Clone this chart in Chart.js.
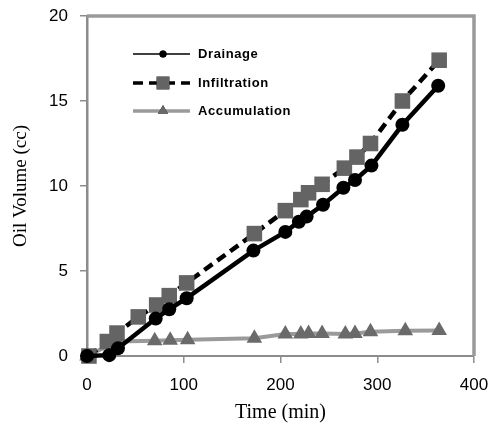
<!DOCTYPE html>
<html>
<head>
<meta charset="utf-8">
<script src="https://cdn.jsdelivr.net/npm/chart.js@4"></script>
<style>
  html, body { margin: 0; padding: 0; background: #fff; }
</style>
</head>
<body>
<canvas id="oilChart" width="489" height="427"></canvas>
<script>
  // values
  const drainageTime = [0, 23, 32, 71, 85, 103, 172, 205, 219, 227, 244, 265, 277, 294, 326, 363];
  const drainageVol  = [0, 0.05, 0.45, 2.2, 2.75, 3.4, 6.2, 7.3, 7.9, 8.2, 8.9, 9.9, 10.35, 11.2, 13.6, 15.9];

  const infiltrationTime = [2, 21, 31, 53, 72, 85, 103, 173, 205, 221, 229, 243, 266, 279, 293, 326, 364];
  const infiltrationVol  = [0, 0.85, 1.35, 2.3, 3.0, 3.55, 4.3, 7.2, 8.55, 9.2, 9.6, 10.1, 11.05, 11.7, 12.5, 15.0, 17.4];

  const accumulationTime = [0, 31, 70, 86, 104, 173, 205, 221, 229, 243, 267, 277, 293, 329, 364];
  const accumulationVol  = [0, 0.85, 0.9, 0.92, 0.95, 1.05, 1.3, 1.3, 1.32, 1.32, 1.3, 1.32, 1.42, 1.48, 1.5];

  const xTicks = [0, 100, 200, 300, 400];
  const yTicks = [0, 5, 10, 15, 20];

  const seriesNames = ['Drainage', 'Infiltration', 'Accumulation'];

  function toPoints(t, v) {
    return t.map(function (x, i) { return { x: x, y: v[i] }; });
  }

  const axisGray = '#8c8c8c';

  /*
  * frame on top and right + legend inside the plot
  */
  const framePlugin = {
    id: 'frame',
    beforeDatasetsDraw(chart) {
      const a = chart.chartArea;
      const ctx = chart.ctx;
      ctx.save();
      ctx.strokeStyle = '#9a9a9a';
      ctx.lineWidth = 3.5;
      ctx.beginPath();
      ctx.moveTo(a.left, a.top);
      ctx.lineTo(a.right, a.top);
      ctx.lineTo(a.right, a.bottom);
      ctx.stroke();
      ctx.restore();
    },
    afterDatasetsDraw(chart) {
      const a = chart.chartArea;
      const ctx = chart.ctx;
      const x0 = a.left + 46, x1 = a.left + 103, xm = a.left + 76;
      const rows = [a.top + 38, a.top + 67, a.top + 95];
      ctx.save();
      chart.data.datasets.forEach(function (ds, i) {
        const y = rows[i];
        ctx.strokeStyle = ds.borderColor;
        ctx.lineWidth = i === 0 ? 1.5 : 3.5;
        ctx.setLineDash(ds.borderDash || []);
        ctx.beginPath();
        ctx.moveTo(x0, y);
        ctx.lineTo(x1, y);
        ctx.stroke();
        ctx.setLineDash([]);
        const r = i === 0 ? 3.5 : (i === 1 ? 9 : 6);
        Chart.helpers.drawPoint(ctx, {
          pointStyle: ds.pointStyle, rotation: 0, radius: r, borderWidth: 0
        }, xm, y);
        ctx.fillStyle = ds.pointBackgroundColor;
        ctx.fill();
        ctx.fillStyle = '#000';
        ctx.font = 'bold 13px "Liberation Sans", Arial, sans-serif';
        ctx.letterSpacing = '0.6px';
        ctx.textBaseline = 'middle';
        ctx.textAlign = 'left';
        ctx.fillText(ds.label, x1 + 8, y);
      });
      ctx.restore();
    }
  };

  // keep tick labels from eating into the plot area
  function noOverflow(s) {
    s.paddingTop = 0;
    s.paddingBottom = 0;
    s.paddingLeft = 0;
    s.paddingRight = 0;
  }

  const data_oil = {
    datasets: [
      {
        label: seriesNames[0],
        data: toPoints(drainageTime, drainageVol),
        borderColor: '#000',
        backgroundColor: '#000',
        pointBackgroundColor: '#000',
        pointBorderColor: '#000',
        borderWidth: 4.5,
        pointStyle: 'circle',
        pointRadius: 7,
        pointBorderWidth: 0,
        showLine: true,
        clip: false,
        order: 1
      },
      {
        label: seriesNames[1],
        data: toPoints(infiltrationTime, infiltrationVol),
        borderColor: '#000',
        backgroundColor: '#646464',
        pointBackgroundColor: '#646464',
        pointBorderColor: '#646464',
        borderWidth: 4.5,
        borderDash: [10, 6],
        pointStyle: 'rect',
        pointRadius: 11,
        pointBorderWidth: 0,
        showLine: true,
        clip: false,
        order: 2
      },
      {
        label: seriesNames[2],
        data: toPoints(accumulationTime, accumulationVol),
        borderColor: '#9a9a9a',
        backgroundColor: '#6a6a6a',
        pointBackgroundColor: '#6a6a6a',
        pointBorderColor: '#6a6a6a',
        borderWidth: 4,
        pointStyle: 'triangle',
        pointRadius: 9,
        pointBorderWidth: 0,
        showLine: true,
        clip: false,
        order: 3
      }
    ]
  };

  const config_oil = {
    type: 'scatter',
    data: data_oil,
    plugins: [framePlugin],
    options: {
      responsive: false,
      animation: false,
      devicePixelRatio: 1,
      layout: { padding: { top: 16, right: 15, left: 6, bottom: 0 } },
      plugins: {
        legend: { display: false },
        tooltip: { enabled: false }
      },
      elements: { line: { tension: 0 } },
      scales: {
        x: {
          type: 'linear',
          min: xTicks[0],
          max: xTicks[xTicks.length - 1],
          afterBuildTicks: function (s) { s.ticks = xTicks.map(function (v) { return { value: v }; }); },
          afterFit: function (s) { s.height = 71; noOverflow(s); },
          ticks: {
            color: '#000',
            padding: 12,
            font: { family: '"Liberation Sans", Arial, sans-serif', size: 17 }
          },
          grid: { drawOnChartArea: false, color: axisGray, tickLength: 7, lineWidth: 1.5 },
          border: { color: axisGray, width: 2 },
          title: {
            display: true,
            text: 'Time (min)',
            color: '#000',
            font: { family: '"Liberation Serif", "Times New Roman", serif', size: 20 },
            padding: { top: 0, bottom: 2 }
          }
        },
        y: {
          type: 'linear',
          min: yTicks[0],
          max: yTicks[yTicks.length - 1],
          afterBuildTicks: function (s) { s.ticks = yTicks.map(function (v) { return { value: v }; }); },
          afterFit: function (s) { s.width = 81; noOverflow(s); },
          ticks: {
            color: '#000',
            padding: 12,
            font: { family: '"Liberation Sans", Arial, sans-serif', size: 17 }
          },
          grid: { drawOnChartArea: false, color: axisGray, tickLength: 7, lineWidth: 1.5 },
          border: { color: axisGray, width: 2.5 },
          title: {
            display: true,
            text: 'Oil Volume (cc)',
            color: '#000',
            font: { family: '"Liberation Serif", "Times New Roman", serif', size: 19 },
            padding: { top: 4, bottom: 0 }
          }
        }
      }
    }
  };

  const chart_oil = new Chart(
    document.getElementById('oilChart').getContext('2d'),
    config_oil
  );
</script>
</body>
</html>
